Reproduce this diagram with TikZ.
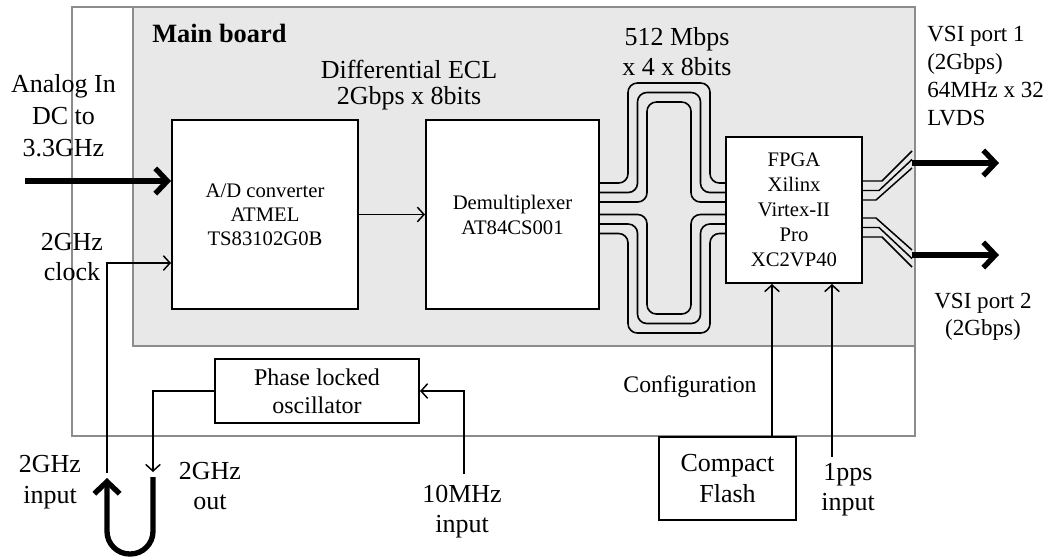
\documentclass[tikz,border=0pt]{standalone}
\usepackage{fontspec}
\setmainfont{Liberation Serif}
\usetikzlibrary{arrows.meta}
\begin{document}
\begin{tikzpicture}[x=0.75pt,y=-0.75pt,
  box/.style={draw, line width=1.5pt, fill=white, inner sep=0pt, align=center},
  lbl/.style={align=center, inner sep=0pt, font=\fontsize{19.5}{23.5}\selectfont},
  thinarr/.style={line width=1.1pt, -{Straight Barb[length=5pt,width=11pt]}},
  thickarr/.style={line width=4pt, -{Straight Barb[length=9pt,width=19pt]}},
  bus/.style={line width=1.2pt, rounded corners=7pt},
  fan/.style={line width=1.1pt},
  frame/.style={draw=black!45, line width=0.8pt}
]
\useasboundingbox (0,0) rectangle (1053,558);
% boards
\draw[frame, fill=white] (72,7) rectangle (915,436);
\draw[frame, fill=black!9] (133,7) rectangle (915,346);
\node[anchor=west, inner sep=0pt, font=\bfseries\fontsize{19.8}{23}\selectfont] (mb) at (152,33) {Main board};

% blocks
\node[box, font=\fontsize{15.5}{18}\selectfont, minimum width=139.5pt, minimum height=141.75pt] (ad) at (265,214.5) {A/D converter\\ATMEL\\TS83102G0B};
\node[box, font=\fontsize{15.5}{18.75}\selectfont, minimum width=129.75pt, minimum height=141.75pt] (dm) at (512.5,214.5) {Demultiplexer\\AT84CS001};
\node[box, font=\fontsize{15.5}{18.75}\selectfont, minimum width=102pt, minimum height=109.5pt] (fpga) at (794,210) {FPGA\\Xilinx\\Virtex-II\\Pro\\XC2VP40};
\node[box, font=\fontsize{18}{21}\selectfont, minimum width=153pt, minimum height=48pt] (plo) at (317,391) {Phase locked\\oscillator};
\node[box, font=\fontsize{19.5}{23.2}\selectfont, minimum width=102.75pt, minimum height=62.25pt] (cf) at (727.5,478.5) {Compact\\Flash};

% labels
\node[lbl, font=\fontsize{19.5}{24}\selectfont] (lain) at (63.5,116) {Analog In\\DC to\\3.3GHz};
\node[lbl, font=\fontsize{19.5}{22.5}\selectfont] (lclk) at (72,257) {2GHz\\clock};
\node[lbl, font=\fontsize{19.5}{23.2}\selectfont] (lgin) at (50,482) {2GHz\\input};
\node[lbl, font=\fontsize{19.5}{23.2}\selectfont] (lgout) at (210,486) {2GHz\\out};
\node[lbl, font=\fontsize{19.5}{22.5}\selectfont] (lten) at (462,512) {10MHz\\input};
\node[lbl, font=\fontsize{19.5}{19.5}\selectfont] (lecl) at (409,85) {Differential ECL\\2Gbps x 8bits};
\node[lbl, font=\fontsize{19.5}{22.5}\selectfont] (l512) at (677,52) {512 Mbps\\x 4 x 8bits};
\node[lbl, align=left, anchor=west, font=\fontsize{17.3}{20.8}\selectfont] (lvsi1) at (927,76) {VSI port 1\\(2Gbps)\\64MHz x 32\\LVDS};
\node[lbl, font=\fontsize{17.3}{20.3}\selectfont] (lvsi2) at (983,316.5) {VSI port 2\\(2Gbps)};
\node[lbl, font=\fontsize{17.8}{21}\selectfont] (lcfg) at (690,387) {Configuration};
\node[lbl, font=\fontsize{19.5}{22.5}\selectfont] (lpps) at (848,490) {1pps\\input};

% coordinates
\coordinate (ain) at (25,181);
\coordinate (clkin) at (107,473);
\coordinate (clky) at (0,263);
\coordinate (gout) at (153,472);
\coordinate (tenin) at (464,474);
\coordinate (uR) at (153,477);
\coordinate (uL) at (107,478);
\coordinate (cfgx) at (772,0);
\coordinate (pps) at (832,457);

% connectors
\draw[thickarr] (ain) -- (ad.west |- ain);
\draw[thinarr] (clkin) |- (ad.west |- clky);
\draw[thinarr] (ad.east) -- (dm.west);
\draw[thinarr] (plo.west) -| (gout);
\draw[thinarr] (tenin) |- (plo.east);
\draw[line width=4pt, rounded corners=17pt, -{Straight Barb[length=9pt,width=19pt]}] (uR) -- (153,554) -- (107,554) -- (uL);
\draw[thinarr] (cf.north -| cfgx) -- (fpga.south -| cfgx);
\draw[thinarr] (pps) -- (fpga.south -| pps);

% bus between demux and FPGA
\foreach \y/\d/\t in {183/41/83, 192.5/31.5/92.5, 202/22/102}{
  \draw[bus] (dm.east |- 0,\y) -- ({669-\d},\y) -- ({669-\d},\t) -- ({669+\d},\t) -- ({669+\d},\y) -- (fpga.west |- 0,\y);
}
\foreach \y/\d/\t in {214.5/22/314, 224/31.5/323.5, 233.5/41/333}{
  \draw[bus] (dm.east |- 0,\y) -- ({669-\d},\y) -- ({669-\d},\t) -- ({669+\d},\t) -- ({669+\d},\y) -- (fpga.west |- 0,\y);
}

% FPGA outputs
\draw[fan] (fpga.east |- 0,181) -- (882,181) -- (912,151);
\draw[fan] (fpga.east |- 0,190.5) -- (879,190.5) -- (912,159.5);
\draw[fan] (fpga.east |- 0,200) -- (876,200) -- (912,168);
\draw[fan] (fpga.east |- 0,218) -- (876,218) -- (912,250);
\draw[fan] (fpga.east |- 0,227.5) -- (879,227.5) -- (912,258.5);
\draw[fan] (fpga.east |- 0,237) -- (882,237) -- (912,267);
\coordinate (o1s) at (912,163);
\coordinate (o1e) at (999,163);
\coordinate (o2s) at (912,255);
\coordinate (o2e) at (999,255);
\draw[thickarr] (o1s) -- (o1e);
\draw[thickarr] (o2s) -- (o2e);
\end{tikzpicture}
\end{document}
